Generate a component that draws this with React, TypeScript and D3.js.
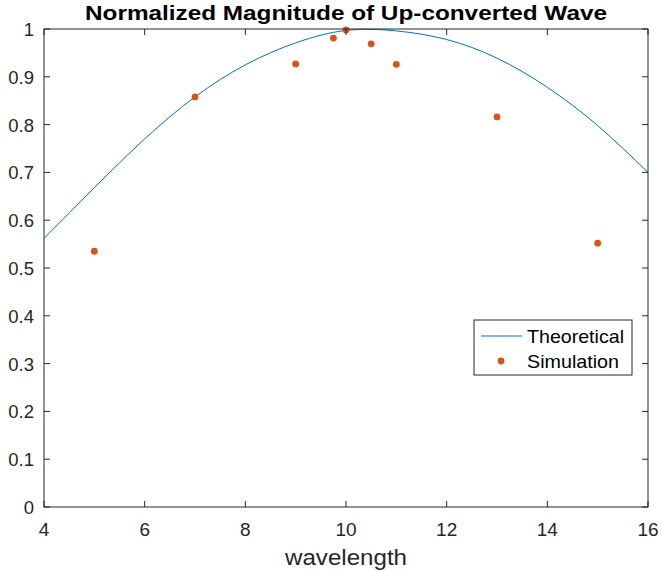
import React from "react";
import * as d3 from "d3";

const theoryX = [4, 5, 6, 7, 8, 9, 10, 11, 12, 13, 14, 15, 16];
const theoryY = [0.562, 0.668, 0.77, 0.858, 0.925, 0.971, 0.997, 0.996, 0.978, 0.939, 0.878, 0.798, 0.7];

const simX = [5, 7, 9, 9.75, 10, 10.5, 11, 13, 15];
const simY = [0.535, 0.858, 0.927, 0.981, 0.998, 0.969, 0.926, 0.816, 0.552];

const xTicks = [4, 6, 8, 10, 12, 14, 16];
const yTicks = [0, 0.1, 0.2, 0.3, 0.4, 0.5, 0.6, 0.7, 0.8, 0.9, 1];

const W = 662, H = 571;
const L = 44, R = 648, T = 29, B = 507;
const axisColor = "#262626";
const font = "'Liberation Sans', Arial, sans-serif";

export default function App() {
  const x = d3.scaleLinear().domain([4, 16]).range([L, R]);
  const y = d3.scaleLinear().domain([0, 1]).range([B, T]);
  const line = d3.line<number>().x((_, i) => x(theoryX[i])).y((d) => y(d)).curve(d3.curveNatural);
  const tl = 6;
  return (
    <svg width={W} height={H} style={{ position: "absolute", left: 0, top: 0, background: "#fff" }}>
      <rect x={0} y={0} width={W} height={H} fill="#fff" />
      <path d={line(theoryY) || ""} fill="none" stroke="#0072BD" strokeWidth={1} />
      {simX.map((v, i) => (
        <circle key={i} cx={x(v)} cy={y(simY[i])} r={3.4} fill="#D95319" />
      ))}
      <rect x={L} y={T} width={R - L} height={B - T} fill="none" stroke={axisColor} strokeWidth={1} />
      {xTicks.map((t) => (
        <g key={"x" + t}>
          <line x1={x(t)} x2={x(t)} y1={B} y2={B - tl} stroke={axisColor} />
          <line x1={x(t)} x2={x(t)} y1={T} y2={T + tl} stroke={axisColor} />
          <text x={x(t)} y={536} fontSize={19} fontFamily={font} fill={axisColor} textAnchor="middle">{t}</text>
        </g>
      ))}
      {yTicks.map((t) => (
        <g key={"y" + t}>
          <line x1={L} x2={L + tl} y1={y(t)} y2={y(t)} stroke={axisColor} />
          <line x1={R} x2={R - tl} y1={y(t)} y2={y(t)} stroke={axisColor} />
          <text x={L - 10} y={y(t) + 7} fontSize={18.5} fontFamily={font} fill={axisColor} textAnchor="end">{t === 0 || t === 1 ? String(t) : t.toFixed(1)}</text>
        </g>
      ))}
      <text x={(L + R) / 2} y={20} fontSize={21} fontWeight="bold" fontFamily={font} fill="#000" textAnchor="middle" textLength={522} lengthAdjust="spacingAndGlyphs">Normalized Magnitude of Up-converted Wave</text>
      <text x={(L + R) / 2} y={565} fontSize={22} fontFamily={font} fill={axisColor} textAnchor="middle" textLength={122} lengthAdjust="spacingAndGlyphs">wavelength</text>
      <g>
        <rect x={474} y={320} width={158} height={55} fill="#fff" stroke={axisColor} strokeWidth={1} />
        <line x1={481} x2={522} y1={336} y2={336} stroke="#0072BD" strokeWidth={1} />
        <text x={527} y={343} fontSize={19} fontFamily={font} fill="#000" textLength={97} lengthAdjust="spacingAndGlyphs">Theoretical</text>
        <circle cx={501} cy={361} r={3.4} fill="#D95319" />
        <text x={527} y={368} fontSize={19} fontFamily={font} fill="#000" textLength={92} lengthAdjust="spacingAndGlyphs">Simulation</text>
      </g>
    </svg>
  );
}
